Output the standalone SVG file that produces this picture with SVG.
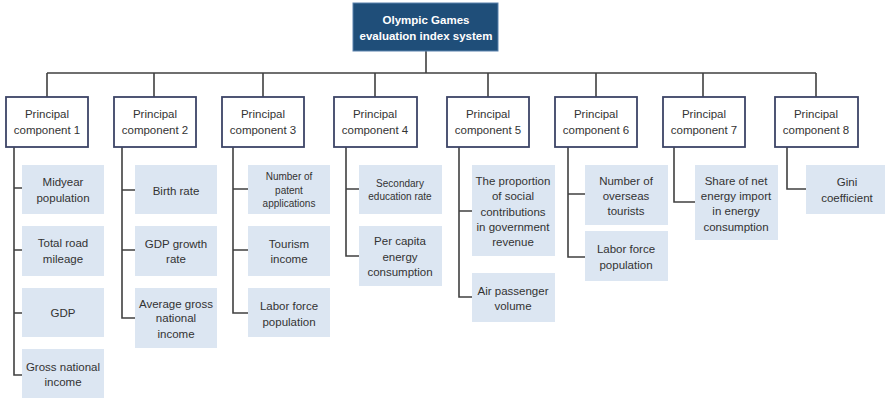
<svg xmlns="http://www.w3.org/2000/svg" width="885" height="401" viewBox="0 0 885 401">
<style>
text{font-family:"Liberation Sans",Arial,sans-serif;font-size:11.5px;fill:#333;text-anchor:middle}
.root rect{fill:#1f4e79;stroke:#5b82ad;stroke-width:1}
.root text{fill:#fff;font-weight:bold}
.pc rect{fill:#fff;stroke:#3c4466;stroke-width:1.8}
.leaf rect{fill:#dce6f2}
.sm{font-size:10px}
#connectors path{fill:none;stroke:#404040;stroke-width:1.6}
</style>
<rect width="885" height="401" fill="#fff"/>
<g id="connectors">
<path d="M426 51V73M47 73H816M47 73V97M154 73V97M263 73V97M375 73V97M488 73V97M596 73V97M703 73V97M816 73V97"/>
<path d="M14 147V375H22M14 188H22M14 250H22M14 313H22"/>
<path d="M122 147V318H135M122 190H135M122 250H135"/>
<path d="M233 147V313H248M233 189H248M233 250H248"/>
<path d="M346 147V256H359M346 189H359"/>
<path d="M459 147V297H472M459 211H472"/>
<path d="M568 147V257H585M568 194H585"/>
<path d="M674 147V202H695"/>
<path d="M787 147V189H806"/>
</g>
<g id="root" class="root"><rect x="353" y="3" width="145" height="48"/><text x="426" y="24">Olympic Games</text><text x="426" y="40">evaluation index system</text></g>
<g id="pc1" class="pc"><rect x="6" y="97" width="82" height="50"/><text x="47" y="118">Principal</text><text x="47" y="134">component 1</text></g>
<g id="pc2" class="pc"><rect x="114" y="97" width="82" height="50"/><text x="155" y="118">Principal</text><text x="155" y="134">component 2</text></g>
<g id="pc3" class="pc"><rect x="222" y="97" width="82" height="50"/><text x="263" y="118">Principal</text><text x="263" y="134">component 3</text></g>
<g id="pc4" class="pc"><rect x="334" y="97" width="83" height="50"/><text x="375" y="118">Principal</text><text x="375" y="134">component 4</text></g>
<g id="pc5" class="pc"><rect x="447" y="97" width="82" height="50"/><text x="488" y="118">Principal</text><text x="488" y="134">component 5</text></g>
<g id="pc6" class="pc"><rect x="555" y="97" width="82" height="50"/><text x="596" y="118">Principal</text><text x="596" y="134">component 6</text></g>
<g id="pc7" class="pc"><rect x="663" y="97" width="82" height="50"/><text x="704" y="118">Principal</text><text x="704" y="134">component 7</text></g>
<g id="pc8" class="pc"><rect x="775" y="97" width="83" height="50"/><text x="816" y="118">Principal</text><text x="816" y="134">component 8</text></g>

<g id="l1a" class="leaf"><rect x="22" y="165" width="82" height="49"/><text x="63" y="186">Midyear</text><text x="63" y="202">population</text></g>
<g id="l1b" class="leaf"><rect x="22" y="226" width="82" height="50"/><text x="63" y="247">Total road</text><text x="63" y="263">mileage</text></g>
<g id="l1c" class="leaf"><rect x="22" y="288" width="82" height="49"/><text x="63" y="317">GDP</text></g>
<g id="l1d" class="leaf"><rect x="22" y="349" width="82" height="49"/><text x="63" y="371">Gross national</text><text x="63" y="386">income</text></g>

<g id="l2a" class="leaf"><rect x="135" y="165" width="82" height="49"/><text x="176" y="195">Birth rate</text></g>
<g id="l2b" class="leaf"><rect x="135" y="226" width="82" height="50"/><text x="176" y="248">GDP growth</text><text x="176" y="263">rate</text></g>
<g id="l2c" class="leaf"><rect x="135" y="288" width="82" height="60"/><text x="176" y="308">Average gross</text><text x="176" y="322">national</text><text x="176" y="338">income</text></g>

<g id="l3a" class="leaf"><rect x="248" y="165" width="82" height="49"/><text class="sm" x="289" y="180">Number of</text><text class="sm" x="289" y="194">patent</text><text class="sm" x="289" y="207">applications</text></g>
<g id="l3b" class="leaf"><rect x="248" y="226" width="82" height="50"/><text x="289" y="248">Tourism</text><text x="289" y="263">income</text></g>
<g id="l3c" class="leaf"><rect x="248" y="288" width="82" height="49"/><text x="289" y="310">Labor force</text><text x="289" y="326">population</text></g>

<g id="l4a" class="leaf"><rect x="359" y="165" width="83" height="49"/><text class="sm" x="400" y="187">Secondary</text><text class="sm" x="400" y="200">education rate</text></g>
<g id="l4b" class="leaf"><rect x="359" y="226" width="83" height="60"/><text x="400" y="245">Per capita</text><text x="400" y="261">energy</text><text x="400" y="276">consumption</text></g>

<g id="l5a" class="leaf"><rect x="472" y="165" width="83" height="91"/><text x="513" y="185">The proportion</text><text x="513" y="200">of social</text><text x="513" y="216">contributions</text><text x="513" y="231">in government</text><text x="513" y="246">revenue</text></g>
<g id="l5b" class="leaf"><rect x="472" y="273" width="83" height="49"/><text x="513" y="295">Air passenger</text><text x="513" y="310">volume</text></g>

<g id="l6a" class="leaf"><rect x="585" y="165" width="83" height="60"/><text x="626" y="185">Number of</text><text x="626" y="200">overseas</text><text x="626" y="215">tourists</text></g>
<g id="l6b" class="leaf"><rect x="585" y="231" width="83" height="50"/><text x="626" y="253">Labor force</text><text x="626" y="269">population</text></g>

<g id="l7a" class="leaf"><rect x="695" y="165" width="83" height="75"/><text x="736" y="185">Share of net</text><text x="736" y="200">energy import</text><text x="736" y="215">in energy</text><text x="736" y="231">consumption</text></g>

<g id="l8a" class="leaf"><rect x="806" y="165" width="82" height="49"/><text x="847" y="186">Gini</text><text x="847" y="202">coefficient</text></g>
</svg>
